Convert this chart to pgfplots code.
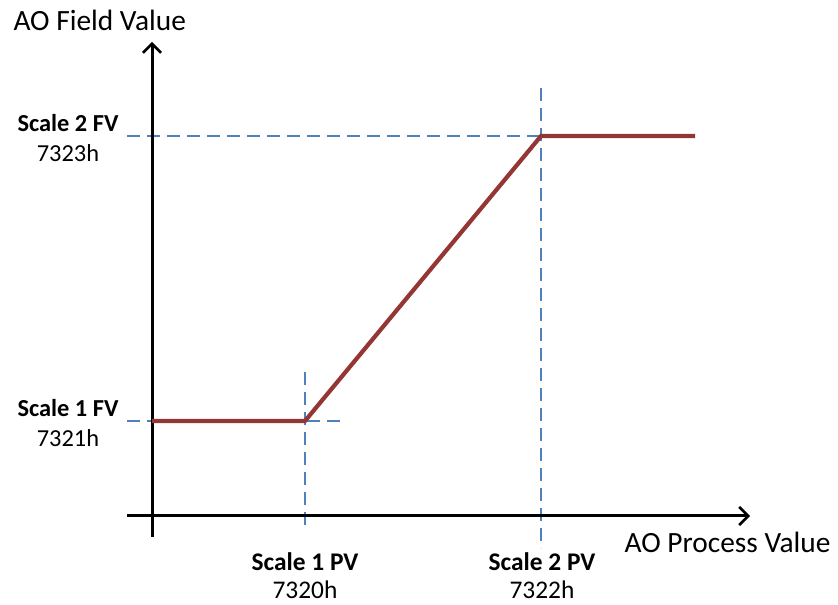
\documentclass[border=0pt]{standalone}
\usepackage{pgfplots}
\pgfplotsset{compat=1.18}
\usepackage{fontspec}
\setmainfont{Carlito}
\usetikzlibrary{arrows.meta}
\definecolor{lineRed}{HTML}{943634}
\definecolor{dashBlue}{HTML}{4F81BD}
\begin{document}
\begin{tikzpicture}
\begin{axis}[
  hide axis,
  scale only axis,
  width=838bp, height=605bp,
  xmin=0, xmax=838, ymin=0, ymax=605,
  clip=false,
]
% invisible frame
\addplot[draw=none] coordinates {(0,0) (838,605)};
% dashed guides
\addplot[dashBlue, line width=1.3bp, dash pattern=on 13bp off 7bp] coordinates {(127,469) (567,469)};
\addplot[dashBlue, line width=1.3bp, dash pattern=on 13bp off 7bp] coordinates {(127,184) (341,184)};
\addplot[dashBlue, line width=1.3bp, dash pattern=on 13bp off 7bp] coordinates {(305,233) (305,75)};
\addplot[dashBlue, line width=1.3bp, dash pattern=on 13bp off 7bp] coordinates {(541,517) (541,57)};
% axes
\addplot[black, line width=3bp, -{Straight Barb[length=9bp,width=18bp,line width=2.5bp]}] coordinates {(152,68) (152,563)};
\addplot[black, line width=3bp, -{Straight Barb[length=9bp,width=18bp,line width=2.5bp]}] coordinates {(127,89) (750,89)};
% data line
\addplot[lineRed, line width=4.2bp, line join=miter] coordinates {(152,184) (305,184) (541,469) (695,469)};
% labels
\node[font=\fontsize{29.5}{32}\selectfont, anchor=west] at (axis cs:10,585) {AO Field Value};
\node[font=\fontsize{29.5}{32}\selectfont, anchor=east] at (axis cs:834,63) {AO Process Value};
\begin{scope}[every node/.style={inner sep=0pt, anchor=base}]
\node[font=\fontsize{24.5}{28}\selectfont\bfseries] at (axis cs:68,473) {Scale 2 FV};
\node[font=\fontsize{24.5}{28}\selectfont] at (axis cs:68,443) {7323h};
\node[font=\fontsize{24.5}{28}\selectfont\bfseries] at (axis cs:68,188) {Scale 1 FV};
\node[font=\fontsize{24.5}{28}\selectfont] at (axis cs:68,158) {7321h};
\node[font=\fontsize{25.5}{28}\selectfont\bfseries] at (axis cs:305,34) {Scale 1 PV};
\node[font=\fontsize{25.5}{28}\selectfont] at (axis cs:305,7) {7320h};
\node[font=\fontsize{25.5}{28}\selectfont\bfseries] at (axis cs:542,34) {Scale 2 PV};
\node[font=\fontsize{25.5}{28}\selectfont] at (axis cs:542,7) {7322h};
\end{scope}
\end{axis}
\end{tikzpicture}
\end{document}
